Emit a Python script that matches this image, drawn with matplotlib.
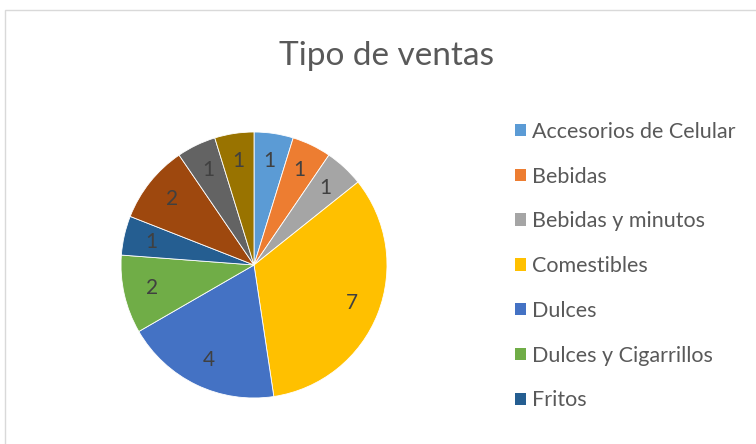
import matplotlib
matplotlib.use("Agg")
import matplotlib.pyplot as plt
from matplotlib.patches import Rectangle, Patch

categories = ["Accesorios de Celular", "Bebidas", "Bebidas y minutos", "Comestibles",
              "Dulces", "Dulces y Cigarrillos", "Fritos", "Frutas", "Licores", "Varios"]
values = [1, 1, 1, 7, 4, 2, 1, 2, 1, 1]
colors = ["#5B9BD5", "#ED7D31", "#A5A5A5", "#FFC000", "#4472C4", "#70AD47",
          "#255E91", "#9E480E", "#636363", "#997300"]
legend_count = 7

plt.rcParams['font.family'] = ['Lato', 'DejaVu Sans']

W, H = 756, 444
fig = plt.figure(figsize=(W / 100, H / 100), dpi=100)
fig.patch.set_facecolor("white")

# chart border
fig.patches.append(Rectangle((5 / W, -0.1), 1.2, 1 - 10 / H + 0.1, transform=fig.transFigure,
                             fill=False, edgecolor="#D9D9D9", linewidth=1.0))

cx, cy, r = 254, 265, 133
ax = fig.add_axes([(cx - r) / W, (H - cy - r) / H, 2 * r / W, 2 * r / H])
wedges, texts = ax.pie(values, colors=colors, startangle=90, counterclock=False,
                       labels=[str(v) for v in values], labeldistance=0.79,
                       wedgeprops=dict(edgecolor="white", linewidth=0.6),
                       textprops=dict(fontsize=15, color="#404040"))
for t in texts:
    t.set_horizontalalignment("center")
    t.set_verticalalignment("center")
ax.set_xlim(-1, 1)
ax.set_ylim(-1, 1)
ax.set_aspect("equal")
ax.axis("off")

fig.text(387 / W, 1 - 56 / H, "Tipo de ventas", ha="center", va="center",
         fontsize=24, color="#595959")

handles = [Patch(facecolor=colors[i], edgecolor="none") for i in range(legend_count)]
leg = fig.legend(handles, categories[:legend_count], loc="upper left",
                 bbox_to_anchor=(504 / W, 1 - 111 / H), frameon=False,
                 fontsize=15.5, labelcolor="#595959", handlelength=0.5, handleheight=0.5,
                 handletextpad=0.3, labelspacing=1.15, borderpad=0)

fig.savefig("out.png", dpi=100, facecolor="white")
